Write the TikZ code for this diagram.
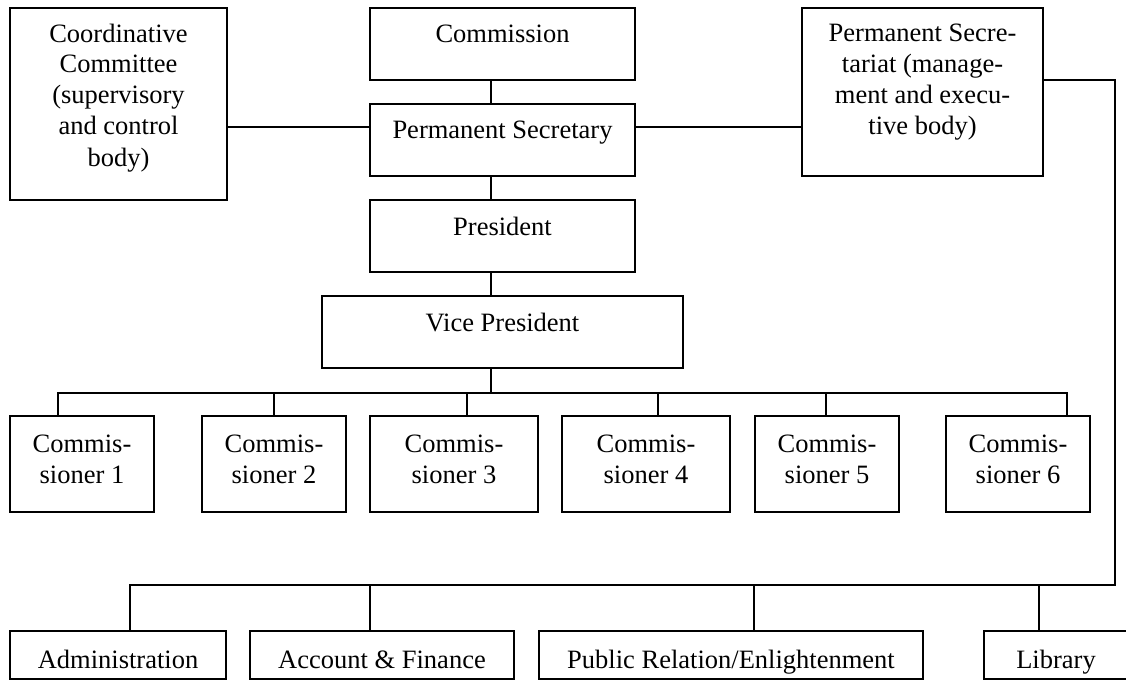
\documentclass[tikz,border=0pt]{standalone}
\usepackage{fontspec}
\setmainfont{Liberation Serif}

% box content: width, height, first-baseline drop, lines
\newcommand\boxtext[4]{\parbox[c][#2pt][t]{#1pt}{\centering\rule{0pt}{#3pt}#4}}

\tikzset{
  unit/.style={draw, line width=1.5pt, inner sep=0pt, outer sep=0pt,
    anchor=north west, font=\fontsize{26.5pt}{31pt}\selectfont},
  link/.style={line width=1.5pt},
}

\begin{document}
\begin{tikzpicture}[x=1pt, y=-1pt]
\useasboundingbox (0,0) rectangle (1126,682);
\clip (0,0) rectangle (1126,682);

% top level
\node[unit] (coord) at (10,8) {\boxtext{217}{192}{34}{Coordinative\\Committee\\(supervisory\\and control\\body)}};
\node[unit] (commission) at (370,8) {\boxtext{265}{72}{35}{Commission}};
\node[unit] (permsec) at (370,104) {\boxtext{265}{72}{34}{Permanent Secretary}};
\node[unit] (secr) at (802,8) {\boxtext{241}{168}{34}{Permanent Secre-\\tariat (manage-\\ment and execu-\\tive body)}};
\node[unit] (pres) at (370,200) {\boxtext{265}{72}{35}{President}};
\node[unit] (vp) at (322,296) {\boxtext{361}{72}{35}{Vice President}};

% commissioners
\node[unit] (c1) at (10,416)  {\boxtext{144}{96}{36}{Commis-\\sioner 1}};
\node[unit] (c2) at (202,416) {\boxtext{144}{96}{36}{Commis-\\sioner 2}};
\node[unit] (c3) at (370,416) {\boxtext{168}{96}{36}{Commis-\\sioner 3}};
\node[unit] (c4) at (562,416) {\boxtext{168}{96}{36}{Commis-\\sioner 4}};
\node[unit] (c5) at (755,416) {\boxtext{144}{96}{36}{Commis-\\sioner 5}};
\node[unit] (c6) at (946,416) {\boxtext{144}{96}{36}{Commis-\\sioner 6}};

% departments
\node[unit] (dept1) at (10,631)  {\boxtext{216}{48}{37}{Administration}};
\node[unit] (dept2) at (250,631) {\boxtext{264}{48}{37}{Account \& Finance}};
\node[unit] (dept3) at (539,631) {\boxtext{384}{48}{37}{Public Relation/Enlightenment}};
\node[unit] (dept4) at (984,631) {\boxtext{144}{48}{37}{Library}};

% main spine
\coordinate (spine) at (491,0);
\coordinate (mid) at (0,127);
\draw[link] (coord.east |- mid) -- (permsec.west |- mid);
\draw[link] (permsec.east |- mid) -- (secr.west |- mid);
\draw[link] (commission.south -| spine) -- (permsec.north -| spine);
\draw[link] (permsec.south -| spine) -- (pres.north -| spine);
\draw[link] (pres.south -| spine) -- (vp.north -| spine);

% commissioner bus
\coordinate (d1) at (58,393);
\coordinate (d2) at (274,393);
\coordinate (d3) at (467,393);
\coordinate (d4) at (658,393);
\coordinate (d5) at (826,393);
\coordinate (d6) at (1067,393);
\draw[link] (vp.south -| spine) -- (d1 -| spine);
\draw[link] (d1 |- c1.north) -- (d1) -- (d6) -- (d6 |- c6.north);
\foreach \i in {2,...,5} \draw[link] (d\i) -- (d\i |- c\i.north);

% secretariat departments
\coordinate (corner) at (1115,80);
\coordinate (turn) at (1115,585);
\coordinate (e1) at (130,585);
\coordinate (e2) at (370,585);
\coordinate (e3) at (754,585);
\coordinate (e4) at (1039,585);
\draw[link] (secr.east |- corner) -- (corner) -- (turn) -- (e1) -- (e1 |- dept1.north);
\foreach \i in {2,...,4} \draw[link] (e\i) -- (e\i |- dept\i.north);
\end{tikzpicture}
\end{document}
